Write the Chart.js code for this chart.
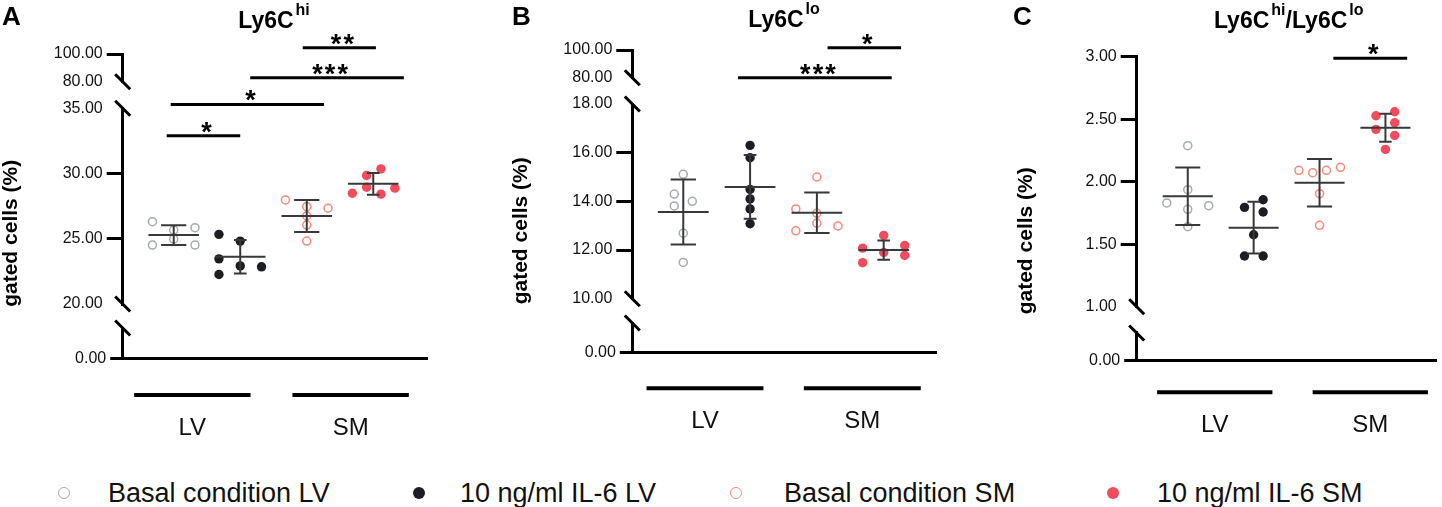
<!DOCTYPE html>
<html>
<head>
<meta charset="utf-8">
<script src="https://cdn.jsdelivr.net/npm/chart.js@4.4.1/dist/chart.umd.min.js"></script>
<style>
  body { margin: 0; width: 1442px; height: 507px; background: #fff; position: relative; overflow: hidden;
         font-family: "Liberation Sans", Arial, sans-serif; }
  .panel { position: absolute; top: 0; height: 450px; }
  .item { position: absolute; top: 476px; font-size: 27px; line-height: 34px; color: #111; white-space: nowrap; }
  .dot { position: absolute; top: 487px; width: 12px; height: 12px; border-radius: 50%; box-sizing: border-box; }
</style>
</head>
<body>
<div class="panel" style="left:0;width:480px"><canvas id="panelA"></canvas></div>
<div class="panel" style="left:480px;width:480px"><canvas id="panelB"></canvas></div>
<div class="panel" style="left:960px;width:482px"><canvas id="panelC"></canvas></div>

<div class="dot" style="left:58px;border:1.5px solid #a3abb0"></div>
<div class="item" style="left:108px">Basal condition LV</div>
<div class="dot" style="left:413px;background:#1b1e24"></div>
<div class="item" style="left:460px">10 ng/ml IL-6 LV</div>
<div class="dot" style="left:730px;border:1.5px solid #f48a7c"></div>
<div class="item" style="left:784px">Basal condition SM</div>
<div class="dot" style="left:1107px;background:#f24b5b"></div>
<div class="item" style="left:1157px">10 ng/ml IL-6 SM</div>

<script>
const tissues = ['LV', 'SM'];
const conditions = ['Basal condition LV', '10 ng/ml IL-6 LV', 'Basal condition SM', '10 ng/ml IL-6 SM'];
const colors = ['#a3abb0', '#1b1e24', '#f48a7c', '#f24b5b'];
const hollow = [true, false, true, false];

// A: Ly6Chi gated cells (%), six wells per condition
const hiValues = [
  [26.31, 25.85, 25.67, 24.98, 24.52, 24.52],
  [25.34, 24.82, 23.46, 22.92, 22.85, 22.26],
  [27.98, 27.46, 27.34, 26.75, 26.05, 24.82],
  [30.36, 29.85, 28.95, 28.49, 28.42, 28.88]
];
const hiSpread = [
  [-0.32, 0.32, 0, 0, -0.32, 0.32],
  [-0.32, 0, -0.32, 0, 0.32, -0.32],
  [-0.32, 0, 0.32, 0, 0, 0],
  [0.115, -0.1, -0.1, -0.315, 0.115, 0.325]
];
const hiMean = [25.28, 23.62, 26.75, 29.21];
const hiSD = [0.765, 1.28, 1.23, 0.835];
const hiTicks = [[80, 100], [20, 25, 30, 35], [0]];
const hiSig = [[0.895, 2.0, 32.9, '*'], [0.955, 3.26, 35.3, '*'], [2.15, 4.46, 82.9, '***'], [2.94, 4.04, 104.5, '**']];

// B: Ly6Clo gated cells (%)
const loValues = [
  [15.11, 14.30, 14.00, 13.81, 12.69, 11.49],
  [16.30, 15.79, 14.49, 14.10, 13.69, 13.08],
  [15.00, 13.69, 13.51, 13.10, 12.99, 12.79],
  [12.60, 12.08, 12.19, 11.90, 11.78, 11.48]
];
const loSpread = [
  [0, -0.135, 0.135, -0.135, 0, 0],
  [0, 0, 0, 0, 0, 0],
  [0, -0.315, 0, 0, 0.315, -0.315],
  [0, -0.315, 0.315, 0, 0.315, -0.315]
];
const loMean = [13.56, 14.59, 13.53, 12.00];
const loSD = [1.335, 1.31, 0.835, 0.395];
const loTicks = [[80, 100], [10, 12, 14, 16, 18], [0]];
const loSig = [[1.82, 4.12, 80, '***'], [3.16, 4.26, 101.7, '*']];

// C: Ly6Chi/Ly6Clo ratio
const ratioValues = [
  [2.288, 1.936, 1.830, 1.808, 1.779, 1.640],
  [1.856, 1.795, 1.758, 1.576, 1.406, 1.406],
  [2.091, 2.072, 2.091, 2.115, 1.904, 1.651],
  [2.560, 2.528, 2.472, 2.419, 2.371, 2.259]
];
const ratioSpread = [
  [0, 0, -0.318, 0.318, 0, 0],
  [0.144, -0.139, 0.144, 0, -0.139, 0.144],
  [-0.313, -0.104, 0.104, 0.318, 0, 0],
  [0.14, -0.144, 0.14, -0.144, 0.14, 0]
];
const ratioMean = [1.883, 1.632, 1.992, 2.432];
const ratioSD = [0.23, 0.207, 0.19, 0.112];
const ratioTicks = [[1, 1.5, 2, 2.5, 3], [0]];
const ratioSig = [[3.21, 4.33, 2.987, '*']];

Chart.defaults.font.family = '"Liberation Sans", Arial, sans-serif';

function errorBar(c, m, sd, cap) {
  return [
    {x: c - 0.38, y: m}, {x: c + 0.38, y: m}, {x: c, y: null},
    {x: c - cap, y: m + sd}, {x: c + cap, y: m + sd}, {x: c, y: null},
    {x: c, y: m + sd}, {x: c, y: m - sd}, {x: c, y: null},
    {x: c - cap, y: m - sd}, {x: c + cap, y: m - sd}
  ];
}

const decor = {
  id: 'decor',
  afterDraw(chart, args, o) {
    const ctx = chart.ctx, area = chart.chartArea, xs = chart.scales.x;
    ctx.save();
    ctx.strokeStyle = '#000';
    ctx.fillStyle = '#000';
    ctx.lineCap = 'butt';

    // axis break marks
    ctx.lineWidth = 3;
    o.breaks.forEach(([id, side]) => {
      const s = chart.scales[id];
      const y = side == 'top' ? s.top : s.bottom;
      ctx.beginPath();
      ctx.moveTo(area.left - 7.5, y - 7.5);
      ctx.lineTo(area.left + 7.5, y + 7.5);
      ctx.stroke();
    });

    // tissue group bars under the axis
    ctx.lineWidth = 4;
    const gy = area.bottom + o.groupBarOffset;
    o.groupCenters.forEach(c => {
      ctx.beginPath();
      ctx.moveTo(xs.getPixelForValue(c - 0.875), gy);
      ctx.lineTo(xs.getPixelForValue(c + 0.875), gy);
      ctx.stroke();
    });

    // significance stars
    ctx.font = 'bold 27px "Liberation Sans"';
    ctx.textAlign = 'center';
    ctx.textBaseline = 'alphabetic';
    chart.data.datasets.forEach((ds, i) => {
      if (!ds.stars) return;
      const pts = chart.getDatasetMeta(i).data;
      const mx = (pts[0].x + pts[1].x) / 2 + 3;
      const n = ds.stars.length;
      for (let k = 0; k < n; k++) {
        ctx.fillText('*', mx + (k - (n - 1) / 2) * 12.6, pts[0].y + 5);
      }
    });

    // title with superscripts
    ctx.textAlign = 'left';
    const mainFont = 'bold 23px "Liberation Sans"', supFont = 'bold 16px "Liberation Sans"';
    let total = 0;
    o.title.forEach(([t, sup]) => { ctx.font = sup ? supFont : mainFont; total += ctx.measureText(t).width + (sup ? 2 : 0); });
    let tx = o.titleX - total / 2;
    o.title.forEach(([t, sup]) => {
      ctx.font = sup ? supFont : mainFont;
      if (sup) tx += 2;
      ctx.fillText(t, tx, sup ? o.titleY - 13 : o.titleY);
      tx += ctx.measureText(t).width;
    });

    // panel letter
    ctx.font = 'bold 26px "Liberation Sans"';
    ctx.fillText(o.letter, o.letterX, 25);

    // y axis title
    ctx.translate(o.yTitleX, o.yTitleY);
    ctx.rotate(-Math.PI / 2);
    ctx.textAlign = 'center';
    ctx.textBaseline = 'middle';
    ctx.font = 'bold 21px "Liberation Sans"';
    ctx.fillText('gated cells (%)', 0, 0);
    ctx.restore();
  }
};

function buildPanel(id, p) {
  const box = document.getElementById(id).parentNode;
  const W = box.clientWidth, H = box.clientHeight;
  const scales = {};
  const real = [];
  let dataId = null;

  // the layout stacks left axes bottom-up, so add the segments in reverse
  for (let k = p.segments.length - 1; k >= 0; k--) {
    const s = p.segments[k];
    const sid = 's' + k;
    if (s.gap) {
      scales[sid] = {
        type: 'linear', position: 'left', stack: 'y', stackWeight: s.gap,
        ticks: {display: false}, grid: {display: false}, border: {display: false},
        afterFit: sc => { sc.width = p.left; }
      };
      continue;
    }
    if (s.data) dataId = sid;
    scales[sid] = {
      type: 'linear', position: 'left', stack: 'y', stackWeight: s.h, min: s.min, max: s.max,
      afterBuildTicks: sc => { sc.ticks = s.ticks.map(v => ({value: v})); },
      afterFit: sc => { sc.width = p.left; },
      border: {display: true, width: 3, color: '#000'},
      grid: {
        display: true, drawOnChartArea: false, drawTicks: true,
        tickLength: s.tick, tickWidth: 3, lineWidth: 3,
        tickColor: c => (c.tick && s.marks.includes(c.tick.value)) ? '#000' : 'rgba(0,0,0,0)'
      },
      ticks: {autoSkip: false, padding: 4, color: '#111', font: {size: 16},
              callback: v => Number(v).toFixed(2)}
    };
  }
  p.segments.forEach((s, k) => { if (!s.gap) real.push('s' + k); });

  scales.x = {
    type: 'linear', position: 'bottom', min: p.xMin, max: p.xMax,
    afterBuildTicks: sc => { sc.ticks = p.groupCenters.map(v => ({value: v})); },
    afterFit: sc => { sc.height = H - p.bottom; },
    grid: {display: false, drawTicks: false},
    border: {display: true, width: 3, color: '#000'},
    ticks: {autoSkip: false, maxRotation: 0, padding: p.labelPad, color: '#111', font: {size: 24},
            callback: (v, i) => tissues[i]}
  };

  const breaks = [];
  real.forEach((sid, k) => {
    if (k > 0) breaks.push([sid, 'top']);
    if (k < real.length - 1) breaks.push([sid, 'bottom']);
  });

  const axisFor = v => {
    let best = dataId, bestMin = -Infinity;
    p.segments.forEach((s, k) => {
      if (!s.gap && s.min <= v && s.min > bestMin) { best = 's' + k; bestMin = s.min; }
    });
    return best;
  };

  const datasets = [];
  conditions.forEach((name, i) => {
    const c = i + 1;
    datasets.push({
      label: name,
      data: p.values[i].map((v, k) => ({x: c + p.spread[i][k], y: v})),
      yAxisID: dataId, showLine: false, order: 3,
      pointRadius: hollow[i] ? 4 : 4.7,
      pointBorderWidth: hollow[i] ? 1.5 : 0,
      pointBackgroundColor: hollow[i] ? 'rgba(0,0,0,0)' : colors[i],
      pointBorderColor: colors[i]
    });
    datasets.push({
      label: name + ' mean ± SD',
      data: errorBar(c, p.mean[i], p.sd[i], hollow[i] ? 0.19 : 0.095),
      yAxisID: dataId, showLine: true, spanGaps: false, pointRadius: 0,
      borderColor: '#383838', borderWidth: 2, order: 2
    });
  });
  p.sig.forEach(([a, b, v, stars]) => {
    datasets.push({
      label: stars, stars: stars,
      data: [{x: a, y: v}, {x: b, y: v}],
      yAxisID: axisFor(v), showLine: true, pointRadius: 0,
      borderColor: '#000', borderWidth: 3, clip: false, order: 1
    });
  });

  return new Chart(document.getElementById(id), {
    type: 'scatter',
    data: {datasets},
    options: {
      responsive: true,
      maintainAspectRatio: false,
      animation: false,
      events: [],
      layout: {padding: {left: 0, top: p.top, right: W - p.right, bottom: 0}},
      scales,
      plugins: {
        legend: {display: false},
        tooltip: {enabled: false},
        decor: {
          breaks, letter: p.letter, letterX: p.letterX, title: p.title, titleX: p.titleX, titleY: p.titleY,
          yTitleX: p.yTitleX, yTitleY: p.yTitleY, groupCenters: p.groupCenters, groupBarOffset: p.groupBarOffset
        }
      }
    },
    plugins: [decor]
  });
}

buildPanel('panelA', {
  left: 122.7, right: 427, top: 54, bottom: 358.3, xMin: 0.233, xMax: 4.808,
  segments: [
    {min: 80, max: 100, ticks: hiTicks[0], marks: [100], h: 27.7, tick: 16},
    {gap: 26.6},
    {min: 20, max: 35, ticks: hiTicks[1], marks: [25, 30], h: 195.7, tick: 16, data: true},
    {gap: 24},
    {min: 0, max: 10, ticks: hiTicks[2], marks: [0], h: 30.3, tick: 12.5}
  ],
  values: hiValues, spread: hiSpread, mean: hiMean, sd: hiSD, sig: hiSig,
  groupCenters: [1.28, 3.66], groupBarOffset: 36.7, labelPad: 55.3,
  letter: 'A', letterX: 2, title: [['Ly6C', false], ['hi', true]], titleX: 274, titleY: 28.3,
  yTitleX: 11.7, yTitleY: 233.3
});

buildPanel('panelB', {
  left: 152.3, right: 456, top: 50, bottom: 352.3, xMin: 0.237, xMax: 4.783,
  segments: [
    {min: 80, max: 100, ticks: loTicks[0], marks: [100], h: 27.7, tick: 16},
    {gap: 26.3},
    {min: 10, max: 18, ticks: loTicks[1], marks: [12, 14, 16], h: 194.7, tick: 16, data: true},
    {gap: 24.3},
    {min: 0, max: 10, ticks: loTicks[2], marks: [0], h: 29.3, tick: 12.5}
  ],
  values: loValues, spread: loSpread, mean: loMean, sd: loSD, sig: loSig,
  groupCenters: [1.325, 3.68], groupBarOffset: 36, labelPad: 55,
  letter: 'B', letterX: 32, title: [['Ly6C', false], ['lo', true]], titleX: 304, titleY: 27.3,
  yTitleX: 40.8, yTitleY: 230.8
});

buildPanel('panelC', {
  left: 176.7, right: 482, top: 56.7, bottom: 360.7, xMin: 0.225, xMax: 4.775,
  segments: [
    {min: 1, max: 3, ticks: ratioTicks[0], marks: [1.5, 2, 2.5, 3], h: 250, tick: 16, data: true},
    {gap: 26.3},
    {min: 0, max: 1, ticks: ratioTicks[1], marks: [0], h: 27.7, tick: 12.5}
  ],
  values: ratioValues, spread: ratioSpread, mean: ratioMean, sd: ratioSD, sig: ratioSig,
  groupCenters: [1.41, 3.77], groupBarOffset: 31.6, labelPad: 50,
  letter: 'C', letterX: 53, title: [['Ly6C', false], ['hi', true], ['/Ly6C', false], ['lo', true]], titleX: 328.7, titleY: 28.3,
  yTitleX: 65.8, yTitleY: 240.8
});
</script>
</body>
</html>
